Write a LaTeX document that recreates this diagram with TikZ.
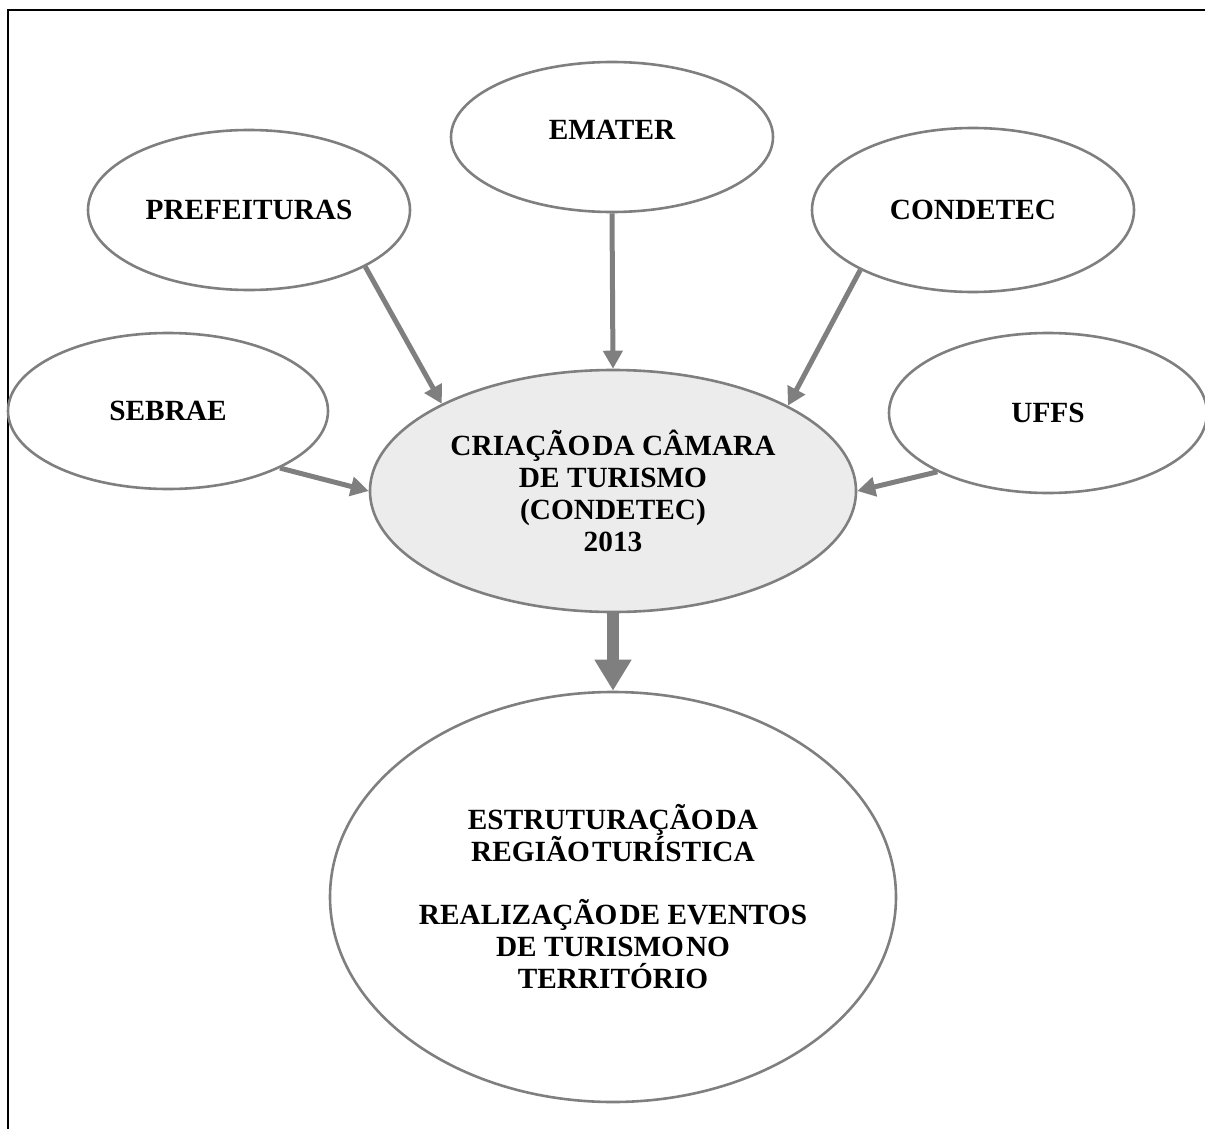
\documentclass[tikz,border=0pt]{standalone}
\usepackage{fontspec}
\setmainfont{Liberation Serif}
\usetikzlibrary{shapes.geometric,arrows.meta}
\definecolor{edgegray}{HTML}{7F7F7F}
\definecolor{ovalfill}{HTML}{ECECEC}
\newcommand{\ts}{\hspace{2pt}}
\begin{document}
\begin{tikzpicture}[x=1pt,y=-1pt,
  oval/.style={ellipse, draw=edgegray, line width=2.6pt, inner sep=0pt, align=center,
    font=\bfseries\fontsize{29.3}{32}\selectfont},
  arr/.style={draw=edgegray, line width=5pt, -{Triangle[width=19pt,length=18pt]}, edgegray},
  bigarr/.style={draw=edgegray, line width=12pt, -{Triangle[width=35pt,length=31pt]}, edgegray}]
\useasboundingbox (0,0) rectangle (1205,1129);
\draw[line width=2.2pt, black] (8,1130) -- (8,10) -- (1206,10);

\node[oval, minimum width=322pt, minimum height=150pt,
  label={[font=\bfseries\fontsize{29.3}{32}\selectfont, yshift=7pt]center:EMATER}] (ematr) at (612,137) {};
\node[oval, minimum width=322pt, minimum height=160pt] (pref) at (249,210) {PREFEITURAS};
\node[oval, minimum width=322pt, minimum height=164pt] (cond) at (973,210) {CONDETEC};
\node[oval, minimum width=320pt, minimum height=156pt] (sebr) at (168,411) {SEBRAE};
\node[oval, minimum width=318pt, minimum height=160pt] (uffs) at (1048,413) {UFFS};
\node[oval, fill=ovalfill, minimum width=486pt, minimum height=242pt] (ctr) at (613,491)
  {CRIAÇÃO\ts DA CÂMARA\\DE TURISMO\\(CONDETEC)\\2013};
\node[oval, minimum width=566pt, minimum height=410pt] (res) at (613,897)
  {ESTRUTURAÇÃO\ts DA\\REGIÃO\ts TURÍSTICA\\[31pt]REALIZAÇÃO\ts DE EVENTOS\\DE TURISMO\ts NO\\TERRITÓRIO};

\draw[arr] (pref.-26.6) -- (ctr.153.3);
\draw[arr] (ematr.-90) -- (ctr.90);
\draw[arr] (cond.-152) -- (ctr.26.6);
\draw[arr] (sebr.-27.7) -- (ctr.180.5);
\draw[arr] (uffs.-152.6) -- (ctr.-0.5);
\draw[bigarr] (ctr.-90) -- (res.90);
\end{tikzpicture}
\end{document}
